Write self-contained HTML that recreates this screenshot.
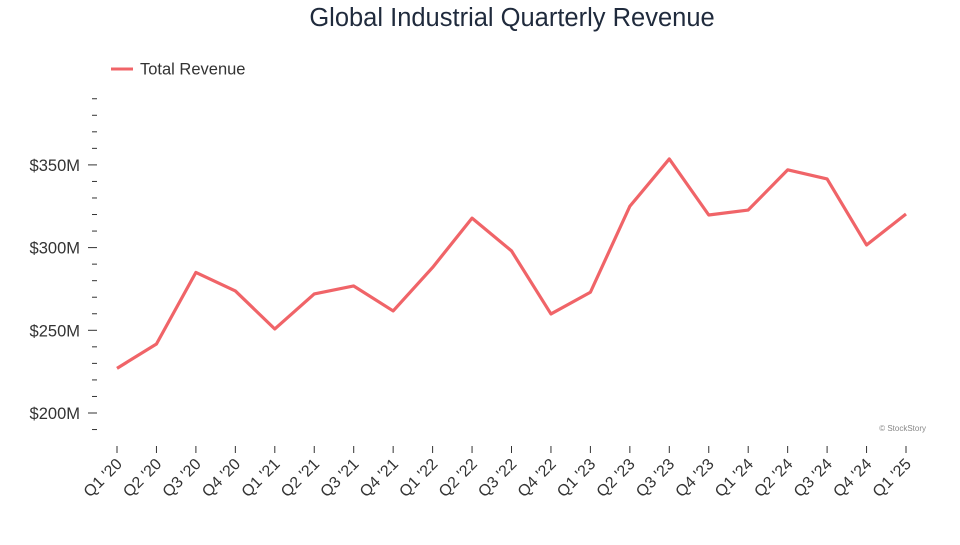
<!DOCTYPE html>
<html><head><meta charset="utf-8">
<style>
body{margin:0;background:#fff;font-family:"Liberation Sans",sans-serif;}
svg text{font-family:"Liberation Sans",sans-serif;}
</style></head>
<body>
<svg id="chart" width="960" height="540" viewBox="0 0 960 540" xmlns="http://www.w3.org/2000/svg">
<text x="512" y="26" text-anchor="middle" font-size="25.5" fill="#1f2a3c">Global Industrial Quarterly Revenue</text>
<g>
<line x1="111" y1="69" x2="133" y2="69" stroke="#f06468" stroke-width="3"/>
<text x="140" y="74.5" font-size="16.5" fill="#333">Total Revenue</text>
</g>
<text x="926" y="431" text-anchor="end" font-size="8" fill="#888">© StockStory</text>
<g id="yaxis"></g>
<g id="xaxis"></g>
<g id="series"></g>
</svg>
<script>
const categories=["Q1 '20","Q2 '20","Q3 '20","Q4 '20","Q1 '21","Q2 '21","Q3 '21","Q4 '21","Q1 '22","Q2 '22","Q3 '22","Q4 '22","Q1 '23","Q2 '23","Q3 '23","Q4 '23","Q1 '24","Q2 '24","Q3 '24","Q4 '24","Q1 '25"];
const revenue=[227,241.7,285,273.8,250.8,272,276.8,261.7,288,317.8,298,259.9,273,325,353.6,319.7,322.7,347,341.5,301.6,320.3];
const yTicks=[200,250,300,350];
const yTickLabels=["$200M","$250M","$300M","$350M"];
const NS="http://www.w3.org/2000/svg";
const y=v=>413-(v-200)*1.654;
const x=i=>117+i*39.45;
function mk(tag,attrs,parent){const e=document.createElementNS(NS,tag);for(const k in attrs)e.setAttribute(k,attrs[k]);parent.appendChild(e);return e;}
const ya=document.getElementById('yaxis'),xa=document.getElementById('xaxis'),sr=document.getElementById('series');
for(let v=190;v<=390;v+=10){const major=yTicks.includes(v);
const t=mk('line',{x1:major?88:92,x2:97,y1:y(v),y2:y(v),stroke:'#333','stroke-width':1},ya);

}
yTicks.forEach((v,i)=>{const t=mk('text',{x:80,y:y(v)+6,'text-anchor':'end','font-size':16.5,fill:'#333'},ya);t.textContent=yTickLabels[i];

});
categories.forEach((c,i)=>{const l=mk('line',{x1:x(i),x2:x(i),y1:446,y2:453,stroke:'#333'},xa);


const t=mk('text',{transform:`translate(${x(i)+6},465) rotate(-45)`,'text-anchor':'end','font-size':16,fill:'#333'},xa);t.textContent=c;

});
const p=mk('polyline',{points:revenue.map((v,i)=>x(i)+','+y(v)).join(' '),fill:'none',stroke:'#f06468','stroke-width':3.2,'stroke-linejoin':'round'},sr);


</script>
</body></html>
